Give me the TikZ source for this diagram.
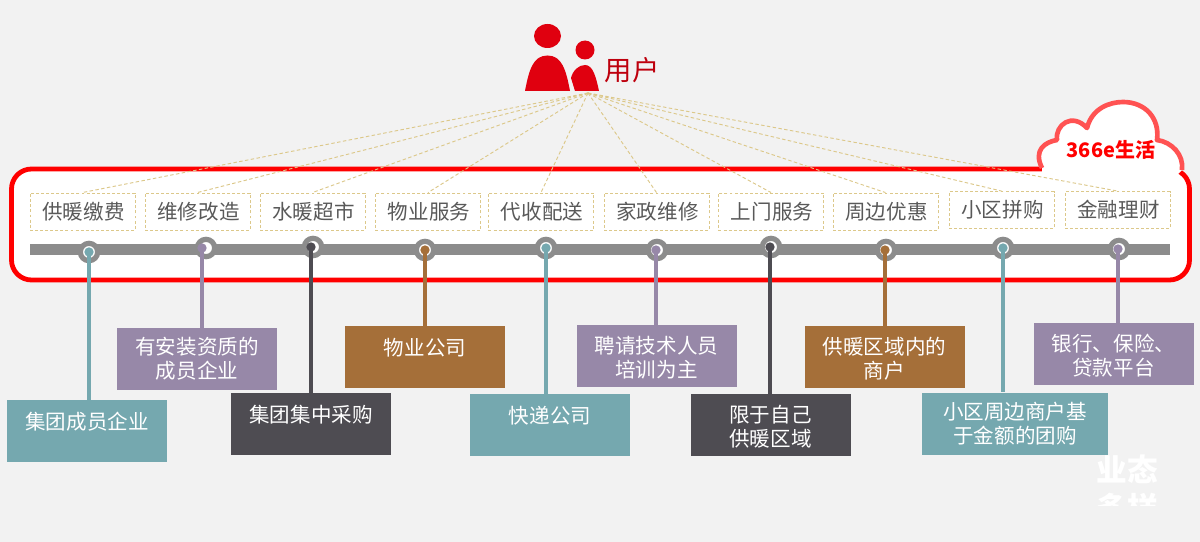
\documentclass[tikz,border=0pt]{standalone}
\usepackage{fontspec}
\setmainfont{Noto Sans CJK SC}
\definecolor{bgc}{HTML}{F2F2F2}
\definecolor{tealc}{HTML}{75A8AF}
\definecolor{purc}{HTML}{9788A8}
\definecolor{darkc}{HTML}{4E4C52}
\definecolor{brownc}{HTML}{A56F39}
\definecolor{redc}{HTML}{E0000F}
\definecolor{dashc}{HTML}{DCC88A}
\definecolor{tagtext}{HTML}{595959}
\definecolor{barc}{HTML}{8C8C8C}
\newcommand{\dnline}[1]{\raisebox{-1.5pt}[\height][\depth]{#1}}
\tikzset{
  x=0.75pt,y=-0.75pt,
  tagbox/.style={draw=dashc,dash pattern=on 2.2pt off 1.6pt,line width=0.7pt,fill=white,inner sep=0,minimum width=78.75pt,minimum height=27.75pt,text=tagtext,font=\fontsize{15.4}{18}\selectfont},
  infobox/.style={inner sep=0,minimum width=120pt,minimum height=46.5pt,text=white,align=center,font=\fontsize{15.4}{18}\selectfont},
  ring/.style={circle,draw=barc,line width=3.9pt,fill=white,inner sep=0,minimum size=13pt},
  dotn/.style={circle,inner sep=0,minimum size=7pt},
  stem/.style={line width=3.2pt},
  rayline/.style={draw=dashc,dash pattern=on 2.6pt off 1.8pt,line width=0.7pt},
}
\begin{document}
\begin{tikzpicture}
\useasboundingbox[fill=bgc] (0,0) rectangle (1200,542);
% frame
\node[draw=red,line width=3.6pt,fill=white,rounded corners=15pt,inner sep=0,minimum width=883.5pt,minimum height=83.25pt] (frame) at (600.5,224.5) {};
% cloud
\fill[white] (1042,172) -- (1042,168) .. controls (1033,150) and (1045,142) .. (1057,140) .. controls (1055,125) and (1072,112) .. (1087,128) .. controls (1092,108) and (1110,102) .. (1123,102) .. controls (1145,102) and (1160,118) .. (1157,140) .. controls (1172,142) and (1184,155) .. (1182,170) -- (1170,182) -- (1042,190) -- cycle;
\draw[draw=red!68!white,line width=3.5pt,line join=round] (1042,168) .. controls (1033,150) and (1045,142) .. (1057,140) .. controls (1055,125) and (1072,112) .. (1087,128) .. controls (1092,108) and (1110,102) .. (1123,102) .. controls (1145,102) and (1160,118) .. (1157,140) .. controls (1172,142) and (1184,155) .. (1182,170);
\node[text=red,font=\fontsize{15}{18}\selectfont\bfseries,inner sep=0] (cloudlabel) at (1111,150) {366e生活};
% user icon
\fill[redc] (547.5,36) ellipse [x radius=13.5,y radius=12];
\fill[redc] (585,50) circle [radius=9.5];
\fill[redc] (525,91) .. controls (529,70) and (533,55.5) .. (547.5,55.5) .. controls (562,55.5) and (566,70) .. (570,91) -- cycle;
\fill[redc] (575,91) -- (571,78) .. controls (573,70) and (579,65) .. (585,65) .. controls (593,65) and (596,77) .. (599,91) -- cycle;
\node[text=redc!85!black,font=\fontsize{20.5}{24}\selectfont,inner sep=0] (user) at (632,70) {用户};
\coordinate (apex) at (588,93);
% rays and tags
\foreach \n/\xa/\ya/\txt in {t1/82.5/211.5/供暖缴费,t2/197.5/211.5/维修改造,t3/312.5/211.5/水暖超市,t4/428/211.5/物业服务,t5/541/211.5/代收配送,t6/656.5/211.5/家政维修,t7/771/211.5/上门服务,t8/885.5/211.5/周边优惠,t9/1001.5/210/小区拼购,t10/1117.5/210/金融理财}{
  \node[tagbox] (\n) at (\xa,\ya) {\hspace*{1.5pt}\txt};
  \draw[rayline] (apex) -- (\n.north);
}
% bar
\fill[barc] (30,244) rectangle (1170,255);
% info boxes, rings, stems
\foreach \n/\cx/\cy/\dx/\bx/\by/\w/\col/\txt in {
 1/89/252/89/87/431/160/tealc/{集团成员企业\\[-3pt]~},
 2/206/248/202/197/359/160/purc/{有安装资质的\\成员企业},
 3/313/247/311/311/424/160/darkc/{集团集中采购\\[-3pt]~},
 4/425/250/425/425/357/160/brownc/{物业公司\\[-3pt]~},
 5/546/248/546/550/425/160/tealc/{快递公司\\[-3pt]~},
 6/657/250/656/656.5/356/160/purc/{\dnline{聘请技术人员}\\\dnline{培训为主}},
 7/771/247/770/770.5/425/160/darkc/{\dnline{限于自己}\\\dnline{供暖区域}},
 8/886/250/885/884.5/357/160/brownc/{\dnline{供暖区域内的}\\\dnline{商户}},
 9/1003/248/1003/1015/423.5/186/tealc/{小区周边商户基\\于金额的团购},
 10/1119/249/1118/1113.5/354/160/purc/{\dnline{银行、保险、}\\\dnline{贷款平台}}}{
  \node[infobox,fill=\col,minimum width=0.75pt*\w] (b\n) at (\bx,\by) {\txt};
  \node[ring] (r\n) at (\cx,\cy) {};
  \node[dotn,fill=\col] (d\n) at (\dx,\cy) {};
  \draw[stem,draw=\col] (d\n.center) -- (d\n.center |- b\n.north);
}
% clipped white text
\begin{scope}
\clip (1080,450) rectangle (1180,505.5);
\node[text=white,font=\fontsize{23}{28}\selectfont\bfseries,align=center,inner sep=0,anchor=north] (faded) at (1127.5,455) {业态\\多样};
\end{scope}
\end{tikzpicture}
\end{document}
